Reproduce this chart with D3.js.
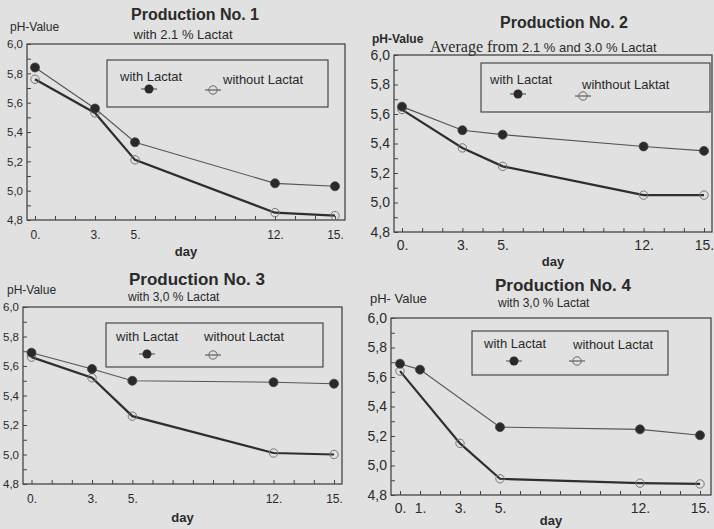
<!DOCTYPE html>
<html>
<head>
<meta charset="utf-8">
<script src="https://cdn.jsdelivr.net/npm/d3@7"></script>
<style>
  html, body { margin: 0; padding: 0; background: #e1e1e1; }
  svg { display: block; }
  text { font-family: "Liberation Sans", Arial, sans-serif; fill: #2a2a2a; }
</style>
</head>
<body>
<svg id="chart" width="714" height="529"></svg>
<script>
// ---- data ----
const days = [0, 3, 5, 12, 15];
const dayTicks = [0, 3, 5, 12, 15];
const dayTicks4 = [0, 1, 3, 5, 12, 15];
const yTicks = [4.8, 5.0, 5.2, 5.4, 5.6, 5.8, 6.0];

const p1With = [5.84, 5.56, 5.33, 5.05, 5.03];
const p1Without = [5.76, 5.53, 5.21, 4.85, 4.83];

const p2With = [5.65, 5.49, 5.46, 5.38, 5.35];
const p2Without = [5.63, 5.37, 5.245, 5.05, 5.05];

const p3With = [5.69, 5.58, 5.50, 5.49, 5.48];
const p3Without = [5.66, 5.52, 5.26, 5.01, 5.00];

const p4WithDays = [0, 1, 5, 12, 15];
const p4With = [5.69, 5.65, 5.26, 5.245, 5.205];
const p4WithoutDays = [0, 3, 5, 12, 15];
const p4Without = [5.64, 5.15, 4.91, 4.88, 4.875];

const titles = ["Production No.  1", "Production No.  2", "Production No.  3", "Production No. 4"];
const subtitles = ["with 2.1 % Lactat", "2.1 % and 3.0 % Lactat", "with 3,0 % Lactat", "with 3,0 % Lactat"];
const yLabels = ["pH-Value", "pH-Value", "pH-Value", "pH- Value"];
const legendWith = ["with Lactat", "with Lactat", "with Lactat", "with Lactat"];
const legendWithout = ["without Lactat", "wihthout Laktat", "without Lactat", "without Lactat"];

// ---- layout ----
const panels = [
  { x0: 35, x15: 335, yTop: 44, yBot: 220, fl: 27, fr: 345, tickFs: 12, yFs: 11.5,
    wDays: days, wVals: p1With, oDays: days, oVals: p1Without, xt: dayTicks,
    title: [195, 20, 16], sub: [183, 39, 13, "middle"], ylab: [10, 31, 12, "normal"],
    xlabY: 239, dayY: 256,
    leg: { x: 107, y: 60, w: 221, h: 47, t1: [120, 81], m1: [149, 89], t2: [223, 84], m2: [213, 90], fs: 13 } },
  { x0: 402, x15: 704, yTop: 55, yBot: 232, fl: 394, fr: 712, tickFs: 14, yFs: 14,
    wDays: days, wVals: p2With, oDays: days, oVals: p2Without, xt: dayTicks,
    title: [564, 28, 16], sub: null, ylab: [372, 43, 12, "bold"],
    xlabY: 250, dayY: 266,
    leg: { x: 481, y: 63, w: 229, h: 49, t1: [490, 84], m1: [518, 94], t2: [582, 89], m2: [583, 96], fs: 13 } },
  { x0: 31.5, x15: 334, yTop: 307, yBot: 484, fl: 23, fr: 342, tickFs: 12, yFs: 11.5,
    wDays: days, wVals: p3With, oDays: days, oVals: p3Without, xt: dayTicks,
    title: [197, 285, 17], sub: [128, 301, 12, "start"], ylab: [7, 294, 12, "normal"],
    xlabY: 503, dayY: 522,
    leg: { x: 106, y: 323, w: 217, h: 44, t1: [116, 341], m1: [147, 354], t2: [204, 341], m2: [213, 355], fs: 13 } },
  { x0: 400, x15: 700, yTop: 318, yBot: 495, fl: 391, fr: 711, tickFs: 14, yFs: 14,
    wDays: p4WithDays, wVals: p4With, oDays: p4WithoutDays, oVals: p4Without, xt: dayTicks4,
    title: [563, 291, 17], sub: [498, 307, 12, "start"], ylab: [370, 303, 13, "normal"],
    xlabY: 513, dayY: 525,
    leg: { x: 472, y: 331, w: 196, h: 44, t1: [484, 348], m1: [514, 361], t2: [573, 349], m2: [577, 361], fs: 13 } }
];

const svg = d3.select("#chart");
const ink = "#2a2a2a";

panels.forEach((p, i) => {
  const g = svg.append("g");
  const x = d3.scaleLinear().domain([0, 15]).range([p.x0, p.x15]);
  const y = d3.scaleLinear().domain([4.8, 6.0]).range([p.yBot, p.yTop]);

  // frame
  g.append("rect").attr("x", p.fl).attr("y", p.yTop)
    .attr("width", p.fr - p.fl).attr("height", p.yBot - p.yTop)
    .attr("fill", "none").attr("stroke", "#3a3a3a").attr("stroke-width", 1.2);

  // y axis minor ticks (every 0.1, inward)
  const yMinor = d3.range(48, 61).map(v => v / 10);
  const ay = g.append("g").attr("transform", `translate(${p.fl},0)`)
    .call(d3.axisLeft(y).tickValues(yMinor).tickSize(-4).tickFormat(""));
  ay.select(".domain").remove();
  ay.selectAll("line").attr("stroke", "#444");

  // y labels
  const ayl = g.append("g").attr("transform", `translate(${p.fl},0)`)
    .call(d3.axisLeft(y).tickValues(yTicks).tickSize(0).tickPadding(4)
      .tickFormat(d => d.toFixed(1).replace(".", ",")));
  ayl.select(".domain").remove();
  ayl.selectAll("text").attr("font-size", p.yFs).attr("font-family", "Liberation Sans, Arial").attr("fill", "#333");

  // x axis minor ticks (every day, inward)
  const ax = g.append("g").attr("transform", `translate(0,${p.yBot})`)
    .call(d3.axisBottom(x).tickValues(d3.range(0, 16)).tickSize(-4).tickFormat(""));
  ax.select(".domain").remove();
  ax.selectAll("line").attr("stroke", "#444");

  // x labels
  const axl = g.append("g").attr("transform", `translate(0,${p.xlabY})`)
    .call(d3.axisBottom(x).tickValues(p.xt).tickSize(0).tickPadding(0).tickFormat(d => d + "."));
  axl.select(".domain").remove();
  axl.selectAll("text").attr("font-size", p.tickFs).attr("dy", 0).attr("font-family", "Liberation Sans, Arial").attr("fill", "#333");

  // day label
  g.append("text").attr("x", (p.fl + p.fr) / 2).attr("y", p.dayY)
    .attr("text-anchor", "middle").attr("font-size", 13).attr("font-weight", "bold").text("day");

  // title
  g.append("text").attr("x", p.title[0]).attr("y", p.title[1])
    .attr("text-anchor", "middle").attr("font-size", p.title[2]).attr("font-weight", "bold")
    .text(titles[i]);

  // subtitle
  if (p.sub) {
    g.append("text").attr("x", p.sub[0]).attr("y", p.sub[1])
      .attr("text-anchor", p.sub[3]).attr("font-size", p.sub[2]).text(subtitles[i]);
  } else {
    const t = g.append("text").attr("x", 430).attr("y", 52);
    t.append("tspan").attr("font-family", "Liberation Serif, Times New Roman, serif")
      .attr("font-size", 16).text("Average from ");
    t.append("tspan").attr("font-size", 13).text(subtitles[i]);
  }

  // y title
  g.append("text").attr("x", p.ylab[0]).attr("y", p.ylab[1])
    .attr("font-size", p.ylab[2]).attr("font-weight", p.ylab[3]).text(yLabels[i]);

  // lines
  const withPts = p.wDays.map((d, k) => [d, p.wVals[k]]);
  const woPts = p.oDays.map((d, k) => [d, p.oVals[k]]);
  const line = d3.line().x(d => x(d[0])).y(d => y(d[1]));

  g.append("path").datum(withPts).attr("d", line)
    .attr("fill", "none").attr("stroke", "#555").attr("stroke-width", 1.1);
  g.append("path").datum(woPts).attr("d", line)
    .attr("fill", "none").attr("stroke", "#2e2e2e").attr("stroke-width", 2.2);

  // markers
  g.selectAll(".wo").data(woPts).enter().append("circle")
    .attr("cx", d => x(d[0])).attr("cy", d => y(d[1])).attr("r", 4.2)
    .attr("fill", "none").attr("stroke", "#777").attr("stroke-width", 1);
  g.selectAll(".w").data(withPts).enter().append("circle")
    .attr("cx", d => x(d[0])).attr("cy", d => y(d[1])).attr("r", 4.5)
    .attr("fill", ink).attr("stroke", "#444").attr("stroke-width", 0.8);

  // legend
  const L = p.leg;
  g.append("rect").attr("x", L.x).attr("y", L.y).attr("width", L.w).attr("height", L.h)
    .attr("fill", "none").attr("stroke", "#3a3a3a").attr("stroke-width", 1.1);
  g.append("text").attr("x", L.t1[0]).attr("y", L.t1[1]).attr("font-size", L.fs).text(legendWith[i]);
  g.append("text").attr("x", L.t2[0]).attr("y", L.t2[1]).attr("font-size", L.fs).text(legendWithout[i]);
  g.append("line").attr("x1", L.m1[0] - 8).attr("x2", L.m1[0] + 8).attr("y1", L.m1[1]).attr("y2", L.m1[1])
    .attr("stroke", "#444").attr("stroke-width", 1);
  g.append("circle").attr("cx", L.m1[0]).attr("cy", L.m1[1]).attr("r", 4.5).attr("fill", ink);
  g.append("line").attr("x1", L.m2[0] - 8).attr("x2", L.m2[0] + 8).attr("y1", L.m2[1]).attr("y2", L.m2[1])
    .attr("stroke", "#444").attr("stroke-width", 1);
  g.append("circle").attr("cx", L.m2[0]).attr("cy", L.m2[1]).attr("r", 4.2).attr("fill", "none")
    .attr("stroke", "#666").attr("stroke-width", 1);
});
</script>
</body>
</html>
